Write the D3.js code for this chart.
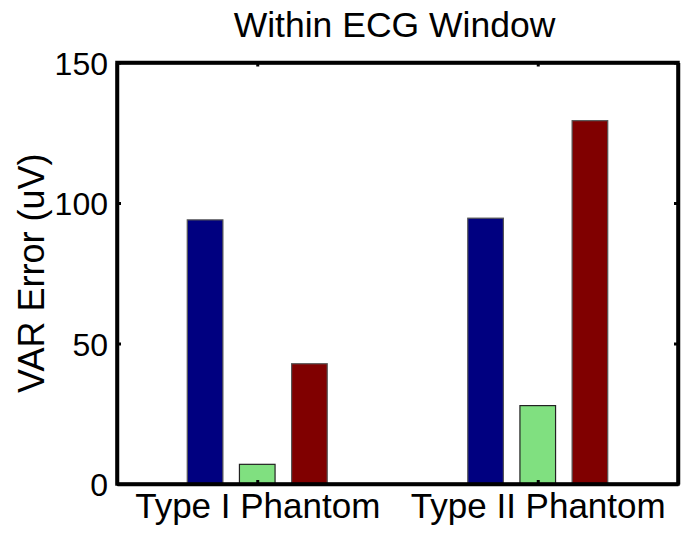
<!DOCTYPE html>
<html>
<head>
<meta charset="utf-8">
<script src="https://cdn.jsdelivr.net/npm/d3@7"></script>
<style>
  html, body { margin: 0; padding: 0; background: #fff; }
  svg { display: block; }
  text { font-family: "Liberation Sans", Arial, sans-serif; fill: #000; }
</style>
</head>
<body>
<svg id="chart" width="686" height="539"></svg>
<script>
// Grouped bar data: VAR error per phantom type
const categories = ["Type I Phantom", "Type II Phantom"];
const seriesA = [94.0, 94.6];   // navy
const seriesB = [7.0, 27.9];    // light green
const seriesC = [42.8, 129.3];  // dark red
const yTicks = [0, 50, 100, 150];
const titleText = "Within ECG Window";
const yLabel = "VAR Error (uV)";

const series = [
  { values: seriesA, fill: "#000080", stroke: "#555" },
  { values: seriesB, fill: "#80e080", stroke: "#222" },
  { values: seriesC, fill: "#800000", stroke: "#555" }
];

const svg = d3.select("#chart");
const plotL = 117, plotR = 678, plotT = 62.5, plotB = 484;

const x = d3.scaleLinear().domain([0.5, categories.length + 0.5]).range([plotL, plotR]);
const y = d3.scaleLinear().domain([0, 150]).range([plotB, plotT]);

// bar geometry in data units (grouped, centred on each category)
const step = 0.186, barW = 0.127;

const g = svg.append("g");
series.forEach((s, si) => {
  g.selectAll(null)
    .data(s.values)
    .enter()
    .append("rect")
    .attr("x", (d, i) => x(i + 1 + (si - 1) * step - barW / 2))
    .attr("width", x(barW) - x(0))
    .attr("y", d => y(d))
    .attr("height", d => y(0) - y(d))
    .attr("fill", s.fill)
    .attr("stroke", s.stroke)
    .attr("stroke-width", 1.2);
});

// axes box with inward ticks on all sides
const tickLen = 4;
const axLeft = d3.axisLeft(y).tickValues(yTicks).tickSizeInner(-tickLen).tickSizeOuter(0).tickFormat(d3.format("d")).tickPadding(9);
const axRight = d3.axisRight(y).tickValues(yTicks).tickSizeInner(-tickLen).tickSizeOuter(0).tickFormat("");
const axTop = d3.axisTop(x).tickValues(d3.range(1, categories.length + 1)).tickSizeInner(-tickLen).tickSizeOuter(0).tickFormat("");
const axBottom = d3.axisBottom(x).tickValues(d3.range(1, categories.length + 1)).tickSizeInner(-tickLen).tickSizeOuter(0)
  .tickFormat(d => categories[d - 1]).tickPadding(9);

function styleAxis(sel) {
  sel.select(".domain").attr("stroke", "#000").attr("stroke-width", 3.5);
  sel.selectAll(".tick line").attr("stroke", "#000").attr("stroke-width", 3);
}

const gl = svg.append("g").attr("transform", `translate(${plotL},0)`).call(axLeft).call(styleAxis);
gl.selectAll(".tick text").style("font-size", "32px").attr("dy", "0.36em");

svg.append("g").attr("transform", `translate(${plotR},0)`).call(axRight).call(styleAxis);
svg.append("g").attr("transform", `translate(0,${plotT})`).call(axTop).call(styleAxis);
const gb = svg.append("g").attr("transform", `translate(0,${plotB})`).call(axBottom).call(styleAxis);
gb.selectAll(".tick text").style("font-size", "35px").attr("dy", "0.71em");

// square off the corners of the box
svg.append("rect")
  .attr("x", plotL).attr("y", plotT)
  .attr("width", plotR - plotL).attr("height", plotB - plotT)
  .attr("fill", "none").attr("stroke", "#000").attr("stroke-width", 3.5);

svg.append("text")
  .attr("x", (plotL + plotR) / 2 - 3)
  .attr("y", 37)
  .attr("text-anchor", "middle")
  .style("font-size", "35.5px")
  .text(titleText);

svg.append("text")
  .attr("transform", `translate(44,${(plotT + plotB) / 2}) rotate(-90)`)
  .attr("text-anchor", "middle")
  .style("font-size", "36px")
  .text(yLabel);
</script>
</body>
</html>
